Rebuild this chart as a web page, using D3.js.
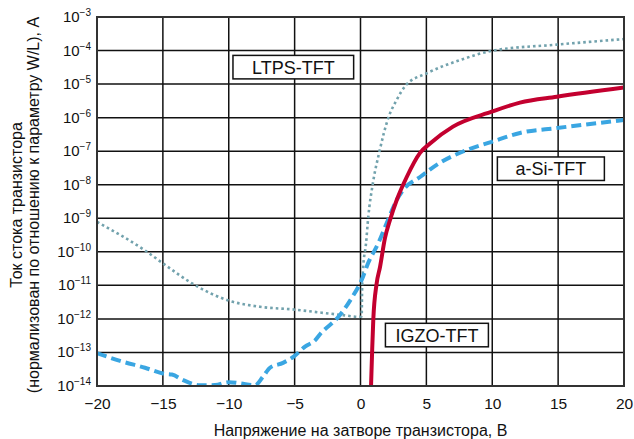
<!DOCTYPE html>
<html>
<head>
<meta charset="utf-8">
<script src="https://cdn.jsdelivr.net/npm/d3@7/dist/d3.min.js"></script>
<style>
  html, body { margin: 0; padding: 0; background: #fff; }
  svg { display: block; font-family: "Liberation Sans", Arial, sans-serif; }
</style>
</head>
<body>
<svg id="chart" width="634" height="439"></svg>
<script>
// Gate voltage, V
const xTicks = [-20, -15, -10, -5, 0, 5, 10, 15, 20];
// Decade exponents for the drain current axis
const yExponents = [-3, -4, -5, -6, -7, -8, -9, -10, -11, -12, -13, -14];

// LTPS-TFT transfer curve
const ltpsV = [-20, -16.36, -14.84, -12.71, -9.98, -7.63, -5.05, -3.07, -1.33, -0.11, 0.09, 0.12, 0.19, 0.42, 0.59, 0.93, 1.43, 2.11, 2.75, 3.45, 5.03, 7.55, 9.96, 14.9, 20];
const ltpsI = [7.8e-10, 1.1e-10, 4.1e-11, 1.1e-11, 3.5e-12, 2.3e-12, 1.9e-12, 1.55e-12, 1.3e-12, 1.15e-12, 1.2e-12, 7.2e-12, 2.9e-11, 1.8e-10, 1.1e-9, 1.05e-8, 9.5e-8, 9.8e-7, 3.4e-6, 9.3e-6, 2.1e-5, 5.2e-5, 9.8e-5, 1.5e-4, 2.2e-4];

// a-Si-TFT transfer curve
const asiV = [-20, -18.25, -16.36, -14.84, -14.31, -13.47, -12.18, -11.04, -9.98, -9.15, -8.01, -7.4, -6.87, -5.88, -5.05, -4.21, -3.45, -3.07, -1.56, -0.67, 0.09, 0.59, 1.35, 1.99, 2.75, 3.23, 4.52, 6.03, 7.78, 9.96, 12.11, 14.92, 20];
const asiI = [9.5e-14, 5.6e-14, 3.5e-14, 2.3e-14, 2.2e-14, 1.5e-14, 1.05e-14, 1.07e-14, 1.3e-14, 1.2e-14, 1.05e-14, 1.9e-14, 3.5e-14, 4.9e-14, 7.6e-14, 1.5e-13, 2.3e-13, 3.5e-13, 1.3e-12, 4.2e-12, 1.45e-11, 4.7e-11, 1.8e-10, 7.2e-10, 3.5e-9, 6.9e-9, 1.7e-8, 4.5e-8, 9.8e-8, 1.9e-7, 3.5e-7, 4.9e-7, 8.5e-7];

// IGZO-TFT transfer curve
const igzoV = [0.8, 0.88, 0.97, 1.22, 1.48, 1.86, 2.24, 2.75, 3.51, 4.52, 5.28, 7.02, 9.96, 12.1, 14.9, 20];
const igzoI = [1.0e-14, 1.0e-13, 9.3e-13, 1.1e-11, 3.5e-11, 2.6e-10, 8.9e-10, 3.5e-9, 1.7e-8, 8.9e-8, 1.7e-7, 5.4e-7, 1.5e-6, 2.8e-6, 4.2e-6, 7.9e-6];

// Curve labels, anchored in data coordinates
const labelText = ["LTPS-TFT", "a-Si-TFT", "IGZO-TFT"];
const labelV = [-5.1, 14.45, 5.8];
const labelI = [3.2e-5, 3.0e-8, 3.3e-13];

const xTitle = "Напряжение на затворе транзистора, В";
const yTitle1 = "Ток стока транзистора";
const yTitle2 = "(нормализован по отношению к параметру W/L), А";

const svg = d3.select("#chart");
const plot = { left: 97, right: 624, top: 17, bottom: 386 };
const FONT = "Liberation Sans, Arial, sans-serif";

const x = d3.scaleLinear().domain([-20, 20]).range([plot.left, plot.right]);
const y = d3.scaleLog().domain([1e-14, 1e-3]).range([plot.bottom, plot.top]);

const minus = s => String(s).replace("-", "\u2212");

// Grid
const grid = svg.append("g");
grid.selectAll("line.v").data(xTicks.slice(1, -1)).join("line")
  .attr("x1", d => x(d)).attr("x2", d => x(d))
  .attr("y1", plot.top).attr("y2", plot.bottom)
  .attr("stroke", "#111").attr("stroke-width", 1.5);
grid.selectAll("line.h").data(yExponents.slice(1, -1)).join("line")
  .attr("x1", plot.left).attr("x2", plot.right)
  .attr("y1", d => y(Math.pow(10, d))).attr("y2", d => y(Math.pow(10, d)))
  .attr("stroke", "#111").attr("stroke-width", 1.5);

// X axis: tick labels only
const xAxis = d3.axisBottom(x).tickValues(xTicks).tickSize(0).tickPadding(11.5)
  .tickFormat(d => minus(d));
svg.append("g").attr("transform", `translate(0,${plot.bottom})`).call(xAxis)
  .call(g => g.select(".domain").remove())
  .call(g => g.selectAll("text").attr("font-size", 15.5).attr("fill", "#111")
    .attr("font-family", FONT));

// Y axis: powers of ten with superscript exponents
const yAxis = d3.axisLeft(y).tickValues(yExponents.map(e => Math.pow(10, e)))
  .tickSize(0).tickPadding(6).tickFormat("");
const yg = svg.append("g").attr("transform", `translate(${plot.left},0)`).call(yAxis);
yg.select(".domain").remove();
yg.selectAll(".tick text").each(function(d) {
  const t = d3.select(this).attr("font-size", 15).attr("fill", "#111")
    .attr("font-family", FONT).attr("dy", "0.3em");
  const e = Math.round(Math.log10(d));
  t.append("tspan").text("10");
  t.append("tspan").attr("font-size", 10).attr("dy", "-0.6em").text(minus(e));
});

// Clip for curves
svg.append("clipPath").attr("id", "plot-clip").append("rect")
  .attr("x", plot.left).attr("y", plot.top)
  .attr("width", plot.right - plot.left).attr("height", plot.bottom - plot.top);

const line = d3.line().x(d => x(d[0])).y(d => y(d[1])).curve(d3.curveMonotoneX);
const curves = svg.append("g").attr("clip-path", "url(#plot-clip)");

curves.append("path").datum(d3.zip(ltpsV, ltpsI)).attr("d", line)
  .attr("fill", "none").attr("stroke", "#72a2ad").attr("stroke-width", 2.6)
  .attr("stroke-dasharray", "2.6 3");
curves.append("path").datum(d3.zip(asiV, asiI)).attr("d", line)
  .attr("fill", "none").attr("stroke", "#3aa6e2").attr("stroke-width", 4)
  .attr("stroke-dasharray", "10 5");
curves.append("path").datum(d3.zip(igzoV, igzoI)).attr("d", line)
  .attr("fill", "none").attr("stroke", "#c3002f").attr("stroke-width", 4);

// Frame
svg.append("rect").attr("x", plot.left).attr("y", plot.top)
  .attr("width", plot.right - plot.left).attr("height", plot.bottom - plot.top)
  .attr("fill", "none").attr("stroke", "#333").attr("stroke-width", 2);

// Boxed curve labels; horizontal padding per label
const boxPad = [19, 18, 10];
labelText.forEach((txt, k) => {
  const g = svg.append("g");
  const cx = x(labelV[k]), cy = y(labelI[k]);
  const t = g.append("text").attr("x", cx).attr("y", cy)
    .attr("text-anchor", "middle").attr("dy", "0.36em")
    .attr("font-size", 18).attr("font-family", FONT).attr("fill", "#111").text(txt);
  const w = t.node().getComputedTextLength();
  g.insert("rect", "text")
    .attr("x", cx - w / 2 - boxPad[k]).attr("y", cy - 11.75)
    .attr("width", w + 2 * boxPad[k]).attr("height", 23.5)
    .attr("fill", "#fff").attr("stroke", "#111").attr("stroke-width", 1.5);
});

// Axis titles
svg.append("text").attr("x", (plot.left + plot.right) / 2).attr("y", 436)
  .attr("text-anchor", "middle").attr("font-size", 16).attr("font-family", FONT)
  .attr("fill", "#111").text(xTitle);
svg.append("text").attr("transform", "translate(22,205) rotate(-90)")
  .attr("text-anchor", "middle").attr("font-size", 16).attr("font-family", FONT)
  .attr("fill", "#111").text(yTitle1);
svg.append("text").attr("transform", "translate(39,205) rotate(-90)")
  .attr("text-anchor", "middle").attr("font-size", 16).attr("font-family", FONT)
  .attr("fill", "#111").text(yTitle2);
</script>
</body>
</html>
